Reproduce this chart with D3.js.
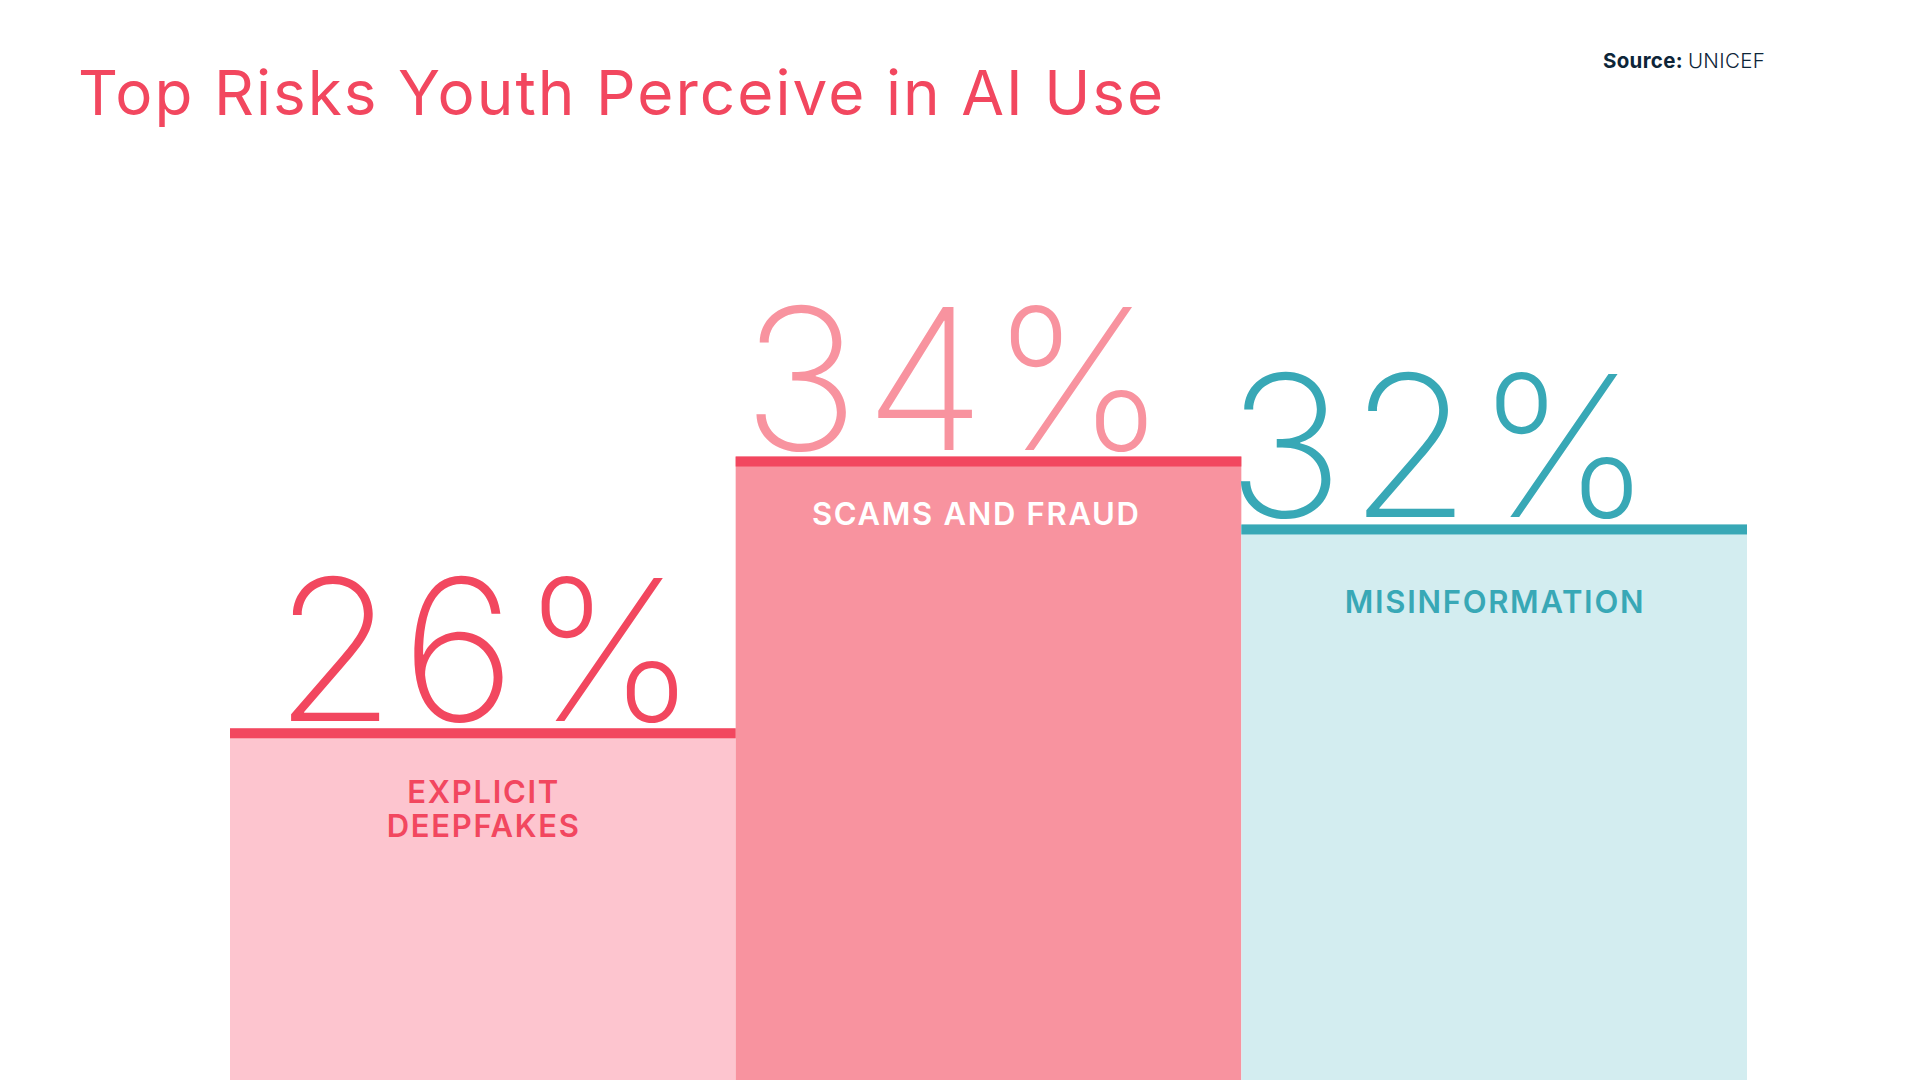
<!DOCTYPE html>
<html>
<head>
<meta charset="utf-8">
<script src="https://cdn.jsdelivr.net/npm/d3@7"></script>
<style>
  html, body { margin: 0; padding: 0; background: #ffffff; }
  svg { display: block; }
</style>
</head>
<body>
<svg id="chart" width="1920" height="1080"></svg>
<script>
// ---- data ----
const categories = ["Explicit deepfakes", "Scams and fraud", "Misinformation"];
const labelLines = [["EXPLICIT", "DEEPFAKES"], ["SCAMS AND FRAUD"], ["MISINFORMATION"]];
const values = [26, 34, 32];
const valueLabels = ["26%", "34%", "32%"];
const titleText = "Top Risks Youth Perceive in AI Use";
const sourceLabel = "Source:";
const sourceName = "UNICEF";

// ---- styles / layout ----
const W = 1920, H = 1080;
const FONT = "Inter, 'Noto Sans', sans-serif";
const fills = ["#fdc5cf", "#f8939f", "#d3edf0"];
const lineColors = ["#f2475f", "#f2475f", "#38a8b6"];
const valueColors = ["#f2475f", "#f8939f", "#38a8b6"];
const labelColors = ["#f2475f", "#ffffff", "#38a8b6"];
const valueDx = [5.5, -31.5, -52];
const labelDx = [0.8, -12.2, 0.8];
const labelDy = [75, 68, 89];

const svg = d3.select("#chart");

const x = d3.scaleBand().domain(categories).range([230, 1747]).padding(0);
const y = d3.scaleLinear().domain([0, 40]).range([1611.5, 252.7]);

// title
svg.append("text")
  .attr("x", 78).attr("y", 115)
  .attr("font-family", FONT).attr("font-size", 62).attr("font-weight", 400)
  .attr("fill", "#f2475f")
  .attr("letter-spacing", 2.05)
  .text(titleText);

// source
const src = svg.append("text")
  .attr("x", 1603).attr("y", 68)
  .attr("font-family", FONT).attr("font-size", 20.5)
  .attr("letter-spacing", 0.3)
  .attr("fill", "#0d2538");
src.append("tspan").attr("font-weight", 700).text(sourceLabel + " ");
src.append("tspan").attr("font-weight", 300).text(sourceName);

const rows = categories.map((c, i) => ({ c, i, v: values[i] }));

const g = svg.append("g");

// bar bodies
g.selectAll("rect.bar").data(rows).join("rect")
  .attr("class", "bar")
  .attr("x", d => x(d.c))
  .attr("y", d => y(d.v))
  .attr("width", x.bandwidth())
  .attr("height", d => H - y(d.v))
  .attr("fill", d => fills[d.i]);

// top accent lines
g.selectAll("rect.cap").data(rows).join("rect")
  .attr("class", "cap")
  .attr("x", d => x(d.c))
  .attr("y", d => y(d.v))
  .attr("width", x.bandwidth())
  .attr("height", 10)
  .attr("fill", d => lineColors[d.i]);

// big value labels
g.selectAll("text.val").data(rows).join("text")
  .attr("class", "val")
  .attr("x", d => x(d.c) + x.bandwidth() / 2 + valueDx[d.i])
  .attr("y", d => y(d.v) - 7)
  .attr("text-anchor", "middle")
  .attr("font-family", FONT).attr("font-size", 197).attr("font-weight", 200)
  .attr("letter-spacing", 5.5)
  .attr("fill", d => valueColors[d.i])
  .text(d => valueLabels[d.i]);

// category labels
const lab = g.selectAll("text.lab").data(rows).join("text")
  .attr("class", "lab")
  .attr("text-anchor", "middle")
  .attr("font-family", FONT).attr("font-size", 31).attr("font-weight", 600)
  .attr("letter-spacing", 1.7)
  .attr("fill", d => labelColors[d.i]);
lab.selectAll("tspan").data(d => labelLines[d.i].map((t, k) => ({ t, k, d }))).join("tspan")
  .attr("x", e => x(e.d.c) + x.bandwidth() / 2 + labelDx[e.d.i])
  .attr("y", e => y(e.d.v) + labelDy[e.d.i] + e.k * 33.4)
  .text(e => e.t);
</script>
</body>
</html>
